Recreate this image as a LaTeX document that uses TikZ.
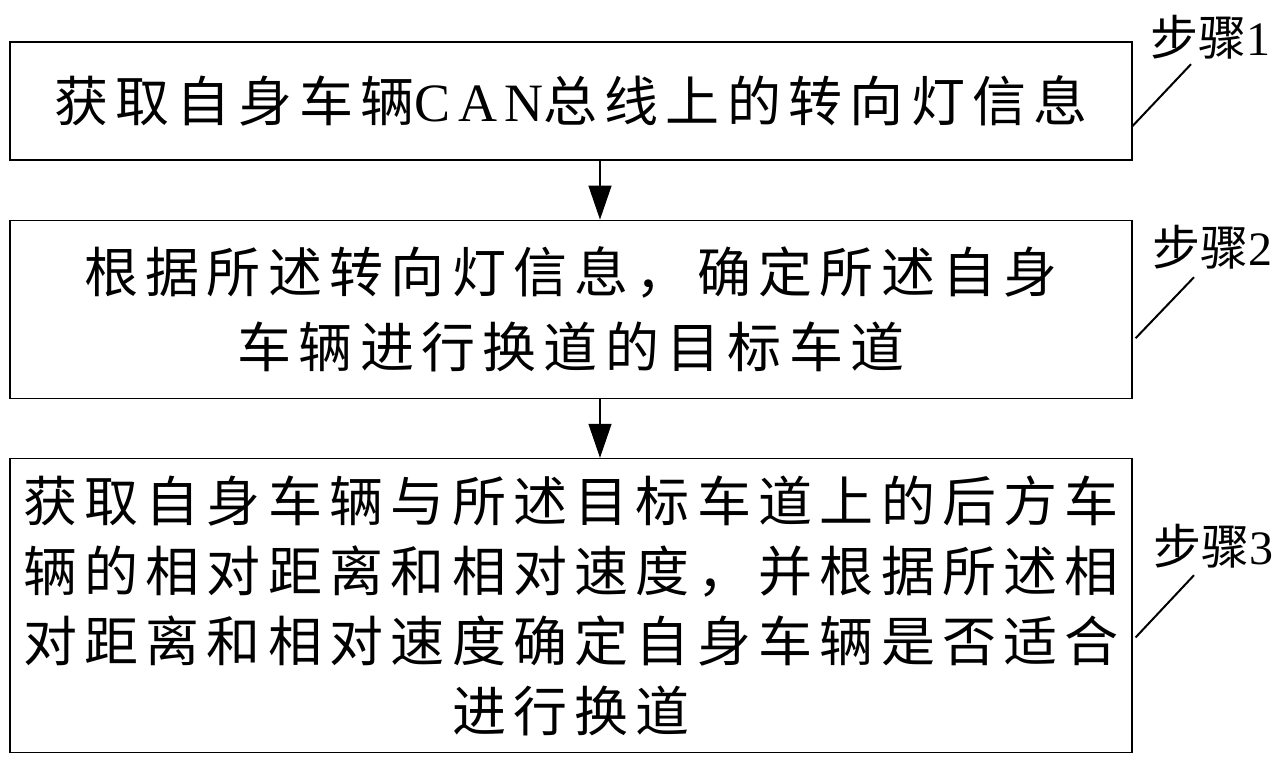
\documentclass[tikz,border=0pt]{standalone}
\usepackage{fontspec}
\setmainfont{Liberation Serif}[LetterSpace=13.5]
\newfontfamily\cjk{Noto Sans CJK SC}[LetterSpace=13.5]
\newfontfamily\cjktag{Noto Sans CJK SC}
\newfontfamily\serftag{Liberation Serif}
\usetikzlibrary{positioning,arrows.meta}

\begin{document}
\begin{tikzpicture}[
  x=1pt, y=-1pt,
  node distance=59pt,
  stepbox/.style={draw, line width=1.2pt, minimum width=1122pt, inner sep=0pt, align=center, font=\fontsize{54}{70}\selectfont},
  arrow/.style={-{Triangle[length=34pt,width=23pt]}, line width=1.2pt},
  tag/.style={inner sep=0pt, font=\fontsize{48}{48}\selectfont},
  leader/.style={line width=2pt}
]
\useasboundingbox (0,0) rectangle (1283,763);

\node[stepbox, minimum height=118pt] (canread) at (571,101)
  {{\cjk 获取自身车辆}CAN{\cjk 总线上的转向灯信息}};
\node[stepbox, minimum height=178pt, below=of canread, font=\fontsize{54}{75}\selectfont] (target)
  {\cjk 根据所述转向灯信息，确定所述自身\\\cjk 车辆进行换道的目标车道};
\node[stepbox, minimum height=294pt, below=of target] (judge)
  {\cjk 获取自身车辆与所述目标车道上的后方车\\\cjk 辆的相对距离和相对速度，并根据所述相\\\cjk 对距离和相对速度确定自身车辆是否适合\\\cjk 进行换道};

\draw[arrow] ([xshift=29pt]canread.south) -- ([xshift=29pt]target.north);
\draw[arrow] ([xshift=29pt]target.south) -- ([xshift=29pt]judge.north);

% step tags on the right
\node[tag] (tag1) at (1210,37) {{\cjktag 步骤}\serftag 1};
\node[tag] (tag2) at (1212,247) {{\cjktag 步骤}\serftag 2};
\node[tag] (tag3) at (1213,546) {{\cjktag 步骤}\serftag 3};

\draw[leader] ([yshift=-25pt]canread.east) -- ([xshift=-19pt,yshift=-5pt]tag1.south);
\draw[leader] ([xshift=3pt,yshift=-29pt]target.east) -- ([xshift=-18pt,yshift=-8pt]tag2.south);
\draw[leader] ([xshift=3pt,yshift=-32pt]judge.east) -- ([xshift=-19pt,yshift=-7pt]tag3.south);
\end{tikzpicture}
\end{document}
